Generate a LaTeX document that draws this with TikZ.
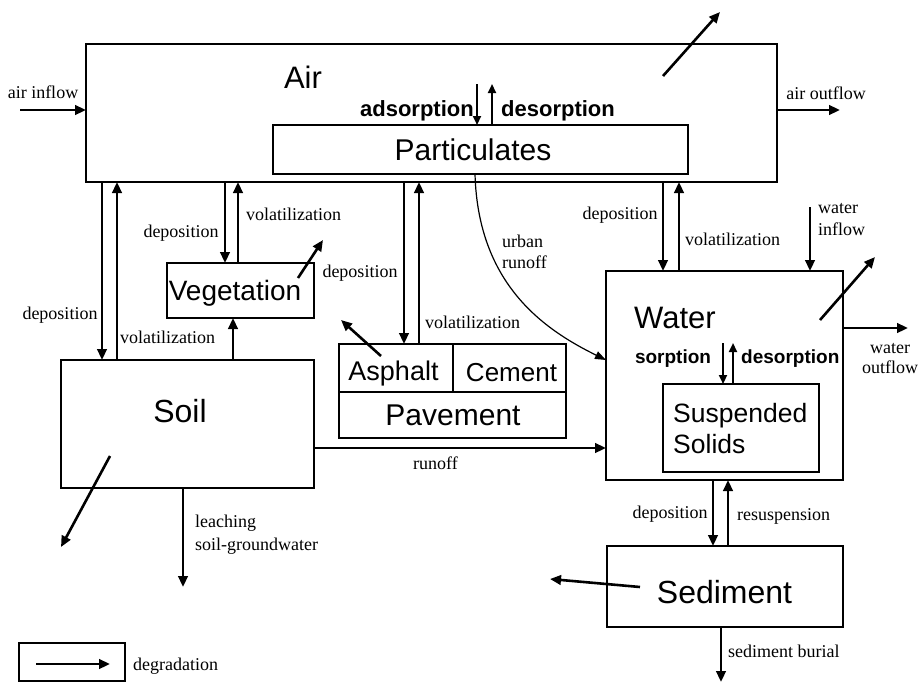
\documentclass[tikz,border=0pt]{standalone}
\usepackage{fontspec}
\setmainfont{Liberation Serif}
\setsansfont{Liberation Sans}
\usetikzlibrary{arrows.meta,calc}
\begin{document}
\begin{tikzpicture}[x=1pt,y=-1pt,
  box/.style={draw, line width=1.4pt, inner sep=0pt, outer sep=0pt},
  arr/.style={line width=2.6pt, -{Triangle[length=11pt,width=9.5pt]}},
  sarr/.style={line width=2.1pt, -{Triangle[length=9pt,width=8pt]}},
  thin arr/.style={line width=1.2pt, -{Triangle[length=11pt,width=8pt]}},
  lab/.style={inner sep=0pt, anchor=base, font=\fontsize{18}{20}\selectfont},
  sf/.style={inner sep=0pt, anchor=base, font=\sffamily\fontsize{#1}{#1}\selectfont},
  sfb/.style={inner sep=0pt, anchor=base, font=\sffamily\bfseries\fontsize{#1}{#1}\selectfont}]
\useasboundingbox (0,0) rectangle (920,683);

% boxes
\node[box, minimum width=691pt, minimum height=138pt] (air) at (431.5,113) {};
\node[box, minimum width=415pt, minimum height=49pt] (part) at (480.5,149.5) {};
\node[box, minimum width=253pt, minimum height=128pt] (soil) at (187.5,424) {};
\node[box, minimum width=147pt, minimum height=55pt] (veg) at (240.5,290.5) {};
\node[box, minimum width=227pt, minimum height=94pt] (pave) at (452.5,391) {};
\node[box, minimum width=114pt, minimum height=48pt] (asph) at (396,368) {};
\node[box, minimum width=113pt, minimum height=48pt] (cem) at (509.5,368) {};
\node[box, minimum width=237pt, minimum height=209pt] (water) at (724.5,375.5) {};
\node[box, minimum width=156pt, minimum height=88pt] (susp) at (741,428) {};
\node[box, minimum width=236pt, minimum height=81pt] (sed) at (725,586.5) {};
\node[box, minimum width=106pt, minimum height=38pt] (leg) at (72,662) {};

% texts
\node[sf=31] (tair) at (303,88) {Air};
\node[sf=30] (tpart) at (473,160) {Particulates};
\node[sfb=22, anchor=base east] (tads) at (474,116) {adsorption};
\node[sfb=22, anchor=base west] (tdes) at (501,116) {desorption};
\node[lab] (tain) at (43,98) {air inflow};
\node[lab] (taout) at (826,99) {air outflow};
\node[lab] (tdep1) at (60,319) {deposition};
\node[lab, anchor=base west] (tvol1) at (120,343) {volatilization};
\node[lab] (tdep2) at (181,237) {deposition};
\node[lab, anchor=base west] (tvol2) at (246,220) {volatilization};
\node[sf=28] (tveg) at (235,300) {Vegetation};
\node[lab] (tdep3) at (360,277) {deposition};
\node[lab, anchor=base west] (tvol3) at (425,328) {volatilization};
\node[lab, anchor=base west] (turb1) at (502,247) {urban};
\node[lab, anchor=base west] (turb2) at (502,268) {runoff};
\node[lab] (tdep4) at (620,219) {deposition};
\node[lab, anchor=base west] (tvol4) at (685,245) {volatilization};
\node[lab, anchor=base west] (twin1) at (818,213) {water};
\node[lab, anchor=base west] (twin2) at (818,235) {inflow};
\node[sf=31] (twater) at (675,328) {Water};
\node[sfb=19] (tsorp) at (673,363) {sorption};
\node[sfb=19, anchor=base west] (tdes2) at (741,363) {desorption};
\node[sf=26.5, anchor=base west] (tsusp1) at (673,422) {Suspended};
\node[sf=26.5, anchor=base west] (tsusp2) at (673,453) {Solids};
\node[lab] (twout1) at (890,353) {water};
\node[lab] (twout2) at (890,373) {outflow};
\node[sf=32] (tsoil) at (180,422) {Soil};
\node[sf=27] (tasph) at (393.5,380) {Asphalt};
\node[sf=26] (tcem) at (511.5,381) {Cement};
\node[sf=30] (tpave) at (453,425) {Pavement};
\node[lab] (trun) at (435.5,469) {runoff};
\node[lab, anchor=base west] (tleach1) at (195,527) {leaching};
\node[lab, anchor=base west] (tleach2) at (195,550) {soil-groundwater};
\node[lab] (tdep5) at (670,518) {deposition};
\node[lab, anchor=base west] (tres) at (737,520) {resuspension};
\node[sf=32] (tsed) at (724.5,603) {Sediment};
\node[lab, anchor=base west] (tbur) at (728,657) {sediment burial};
\node[lab, anchor=base west] (tdeg) at (133,670) {degradation};

% helper coordinates
\coordinate (c1) at (102,0);  \coordinate (c2) at (117,0);
\coordinate (c3) at (225,0);  \coordinate (c4) at (238,0);
\coordinate (c5) at (233,0);
\coordinate (c6) at (404,0);  \coordinate (c7) at (419,0);
\coordinate (c8) at (663,0);  \coordinate (c9) at (679,0);
\coordinate (c14) at (713,0); \coordinate (c15) at (728,0);
\coordinate (ad1) at (477,84); \coordinate (de1) at (492,84);
\coordinate (so1) at (723,343); \coordinate (so2) at (733,343);
\coordinate (bur) at (721,682);
\coordinate (lc) at (183,587);
\coordinate (ry) at (0,448);
\coordinate (ain) at (20,110);
\coordinate (aout) at (840,110);
\coordinate (win) at (810,207);
\coordinate (wout) at (908,328);
\coordinate (ur) at (475,0);
\coordinate (ury) at (0,360);

% exchange arrows
\draw[arr] (c1 |- air.south) -- (c1 |- soil.north);
\draw[arr] (c2 |- soil.north) -- (c2 |- air.south);
\draw[arr] (c3 |- air.south) -- (c3 |- veg.north);
\draw[arr] (c4 |- veg.north) -- (c4 |- air.south);
\draw[arr] (c5 |- soil.north) -- (c5 |- veg.south);
\draw[arr] (c6 |- air.south) -- (c6 |- pave.north);
\draw[arr] (c7 |- pave.north) -- (c7 |- air.south);
\draw[arr] (c8 |- air.south) -- (c8 |- water.north);
\draw[arr] (c9 |- water.north) -- (c9 |- air.south);
\draw[arr] (c14 |- water.south) -- (c14 |- sed.north);
\draw[arr] (c15 |- sed.north) -- (c15 |- water.south);
\draw[sarr] (ad1) -- (ad1 |- part.north);
\draw[sarr] (de1 |- part.north) -- (de1);
\draw[sarr] (so1) -- (so1 |- susp.north);
\draw[sarr] (so2 |- susp.north) -- (so2);
\draw[arr] (bur |- sed.south) -- (bur);
\draw[arr] (lc |- soil.south) -- (lc);
\draw[arr] (ry -| soil.east) -- (ry -| water.west);
\draw[arr] (ain) -- (ain -| air.west);
\draw[arr] (aout -| air.east) -- (aout);
\draw[arr] (win) -- (win |- water.north);
\draw[arr] (wout -| water.east) -- (wout);
\draw[thin arr] (ur |- part.south) .. controls (478,285) and (545,330) .. (ury -| water.west);

% degradation arrows
\coordinate (g1a) at (663,76);  \coordinate (g1b) at (720,12);
\coordinate (g2a) at (298,278); \coordinate (g2b) at (323,240);
\coordinate (g3a) at (381,356); \coordinate (g3b) at (341,320);
\coordinate (g4a) at (110,456); \coordinate (g4b) at (61,547);
\coordinate (g5a) at (820,320); \coordinate (g5b) at (875,257);
\coordinate (g6a) at (640,587); \coordinate (g6b) at (550,579);
\coordinate (g7a) at (36,664);  \coordinate (g7b) at (110,664);
\draw[arr] (g1a) -- (g1b);
\draw[arr] (g2a) -- (g2b);
\draw[arr] (g3a) -- (g3b);
\draw[arr] (g4a) -- (g4b);
\draw[arr] (g5a) -- (g5b);
\draw[arr] (g6a) -- (g6b);
\draw[arr] (g7a) -- (g7b);
\end{tikzpicture}
\end{document}
